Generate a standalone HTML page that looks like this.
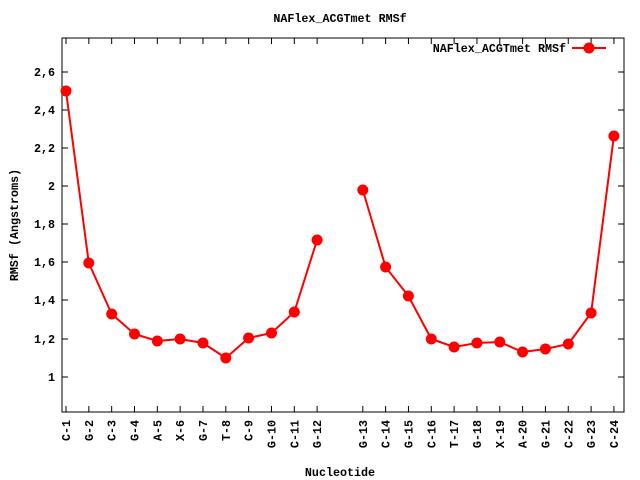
<!DOCTYPE html>
<html><head><meta charset="utf-8"><style>body{margin:0;background:#fff}svg{display:block}text{font-family:"Liberation Mono",monospace;font-size:11.7px;font-weight:bold;fill:#000}</style></head><body>
<svg width="640" height="480" xmlns="http://www.w3.org/2000/svg">
<rect x="62" y="38" width="562" height="374" fill="none" stroke="#000" stroke-width="1"/>
<g stroke="#000" stroke-width="1" id="ticks"></g>
<text x="340" y="22" text-anchor="middle">NAFlex_ACGTmet RMSf</text>
<text x="566" y="52" text-anchor="end">NAFlex_ACGTmet RMSf</text>
<line x1="572" y1="48" x2="606" y2="48" stroke="#f00" stroke-width="2"/>
<circle cx="589" cy="48" r="5.5" fill="#f00"/>
<text x="340" y="476" text-anchor="middle">Nucleotide</text>
<text transform="translate(18,225) rotate(-90)" text-anchor="middle">RMSf (Angstroms)</text>
<g id="yl"></g><g id="xl"></g><g id="data"></g>
<script>
var ns="http://www.w3.org/2000/svg";
function el(t,a,p,tx){var e=document.createElementNS(ns,t);for(var k in a)e.setAttribute(k,a[k]);if(tx)e.textContent=tx;document.getElementById(p).appendChild(e);}
var yv=[[1,377],[1.2,339],[1.4,300],[1.6,262],[1.8,224],[2,186],[2.2,148],[2.4,110],[2.6,72]];
yv.forEach(function(v){el("line",{x1:62,y1:v[1],x2:68,y2:v[1]},"ticks");el("line",{x1:624,y1:v[1],x2:618,y2:v[1]},"ticks");
el("text",{x:55,y:v[1]+4,"text-anchor":"end"},"yl",String(v[0]).replace(".",","));});
var names=["C-1","G-2","C-3","G-4","A-5","X-6","G-7","T-8","C-9","G-10","C-11","G-12",null,"G-13","C-14","G-15","C-16","T-17","G-18","X-19","A-20","G-21","C-22","G-23","C-24"];
var ys=[91,263,314,334,341,339,343,358,338,333,312,240,null,190,267,296,339,347,343,342,352,349,344,313,136];
var pts1=[],pts2=[];
names.forEach(function(n,i){var x=66+i*22.83;if(!n)return;
el("line",{x1:x,y1:412,x2:x,y2:406},"ticks");el("line",{x1:x,y1:38,x2:x,y2:44},"ticks");
el("text",{transform:"translate("+(x+4)+",420) rotate(-90)","text-anchor":"end"},"xl",n);
(i<12?pts1:pts2).push(x.toFixed(1)+","+ys[i]);});
[pts1,pts2].forEach(function(p){el("polyline",{points:p.join(" "),fill:"none",stroke:"#f00","stroke-width":2},"data");});
pts1.concat(pts2).forEach(function(p){var s=p.split(",");el("circle",{cx:s[0],cy:s[1],r:5.5,fill:"#f00"},"data");});
</script>
</svg>
</body></html>
